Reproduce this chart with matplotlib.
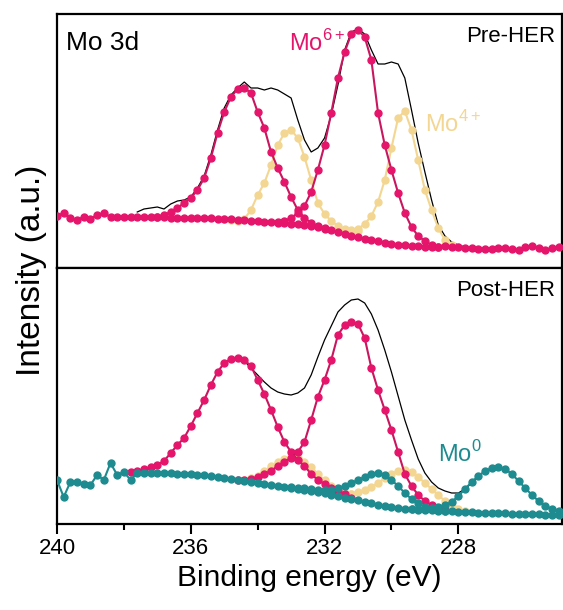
import matplotlib
matplotlib.use("Agg")
import matplotlib.pyplot as plt
import numpy as np

plt.rcParams['font.family'] = ['Liberation Sans', 'DejaVu Sans']
plt.rcParams['mathtext.fontset'] = 'custom'
plt.rcParams['mathtext.rm'] = 'Liberation Sans'

# energia de ligacao (eV), passo de 0.2 eV
E = np.round(np.arange(240.0, 224.9, -0.2), 1)

# ---- Pre-HER ----
pre_bg = [52, 55, 50, 48, 51, 49, 53, 55, 51, 51,
          51, 51, 51, 51, 51, 51, 51, 50.5, 50, 50,
          50, 50, 50, 50, 49.5, 49, 49, 48.5, 48, 47.5,
          47, 46.5, 46, 45.5, 45, 44.5, 44, 43, 42, 41,
          39.5, 38, 36, 34, 32, 31, 29, 28, 27, 25.5,
          24.5, 23.5, 23, 22.5, 22, 21.5, 21, 21, 22, 21.5,
          21, 20.5, 20, 19.5, 19, 19, 20, 20, 19, 18,
          21.5, 22, 20, 18, 20, 21]
pre_raw_start = 237.6
pre_raw = [56, 59, 60, 61, 59, 64, 67, 68, 71, 80,
           92, 113, 138, 160, 173, 180, 186, 180, 180, 178,
           180, 178, 174, 170, 148, 128, 116, 120, 130, 153,
           183, 218, 236, 239, 234, 218, 204, 204, 206, 204,
           190, 158, 125, 96, 68, 43, 32, 26, 23, 21]
pre_mo6a_start = 237.0
pre_mo6a = [51, 53, 56, 60, 65, 70, 78, 90, 110, 135,
            156, 171, 179, 180, 175, 156, 140, 116, 100, 86,
            71, 58, 50, 45, 42, 40]
pre_mo6b_start = 233.4
pre_mo6b = [46, 47, 50, 55, 62, 76, 98, 123, 155, 190,
            216, 234, 238, 231, 208, 155, 123, 98, 75, 55,
            41, 32, 27, 23, 21]
pre_mo4a_start = 235.0
pre_mo4a = [49, 48, 47, 49, 58, 73, 85, 103, 123, 135,
            138, 130, 111, 88, 65, 54, 47, 42, 39, 38, 37]
pre_mo4b_start = 231.2
pre_mo4b = [37, 39, 44, 52, 66, 88, 120, 150, 157, 138,
            108, 78, 58, 40, 28, 23, 21]

# ---- Post-HER ----
post_bg = [44, 27, 42, 42, 40, 39, 49, 44, 61, 49,
           52, 44, 51, 51, 51, 51, 51, 51, 50.5, 50,
           50, 49.5, 49, 48, 47, 46, 45, 44, 43, 42,
           41, 40, 39, 38, 37, 36, 35, 34, 33, 32,
           31, 29.5, 28, 26.5, 25, 24, 22, 21, 19.5, 18,
           17, 16, 15.5, 15, 14.5, 14, 14, 13.5, 13, 13,
           12.5, 12, 12, 11.5, 11.5, 11, 11, 11, 10.5, 10.5,
           10, 10, 10, 9.5, 9.5, 9]
post_env_start = 234.6
post_env = [167, 163, 156, 149, 142, 136, 132, 130, 129, 131,
            136, 149, 167, 184, 198, 212, 219, 224, 225, 221,
            210, 194, 174, 152, 128, 104, 84, 65, 51, 42,
            36, 33, 31, 31, 35, 41, 48]
post_mo6a_start = 237.8
post_mo6a = [52, 53, 55, 57, 59, 63, 71, 79, 86, 98,
             111, 124, 139, 152, 161, 165, 166, 164, 158, 144,
             130, 114, 97, 82, 72, 64, 58, 50, 44, 40,
             36, 33, 30, 26]
post_mo6b_start = 234.6
post_mo6b = [44, 44, 45, 47, 50, 53, 58, 62, 66, 72,
             82, 104, 127, 144, 164, 189, 199, 202, 200, 186,
             156, 134, 114, 94, 72, 50, 38, 29, 23, 19,
             16, 14]
post_mo4a_start = 234.4
post_mo4a = [44, 46, 48, 53, 58, 62, 65, 67, 66, 62,
             57, 50, 44, 38, 33, 31, 30]
post_mo4b_start = 231.2
post_mo4b = [30, 32, 34, 37, 41, 46, 50, 53, 54, 52,
             47, 41, 35, 29, 23, 18, 15, 13]
post_mo0a_start = 233.0
post_mo0a = [37, 36, 36, 35, 34, 34, 34, 36, 38, 41,
             44, 47, 50, 51, 49, 44, 38, 31, 25, 21,
             17, 15, 14, 13]
post_mo0b_start = 229.4
post_mo0b = [15, 15, 15, 16, 17, 19, 22, 28, 35, 42,
             48, 53, 56, 57, 55, 50, 43, 36, 29, 23,
             18, 15, 13]

pink = '#e4156b'
pink_line = '#c8175e'
yellow = '#f3d692'
teal = '#1d8b8f'


def energias(inicio, valores):
    i0 = int(np.argmin(np.abs(E - inicio)))
    return E[i0:i0 + len(valores)]


def componente(ax, inicio, valores, cor, cor_linha, z):
    ax.plot(energias(inicio, valores), valores, '-o', color=cor_linha, lw=1.5,
            ms=5, mfc=cor, mec=cor, zorder=z)


fig = plt.figure(figsize=(5.63, 6.10), dpi=100)
ax1 = fig.add_axes([57 / 563, 1 - 268 / 610, 505 / 563, 254 / 610])
ax2 = fig.add_axes([57 / 563, 1 - 524 / 610, 505 / 563, 256 / 610])

# painel superior
ax1.plot(energias(pre_raw_start, pre_raw), pre_raw, color='black', lw=0.9, zorder=1)
componente(ax1, pre_mo4a_start, pre_mo4a, yellow, yellow, 2)
componente(ax1, pre_mo4b_start, pre_mo4b, yellow, yellow, 2)
componente(ax1, pre_mo6a_start, pre_mo6a, pink, pink_line, 3)
componente(ax1, pre_mo6b_start, pre_mo6b, pink, pink_line, 3)
componente(ax1, 240.0, pre_bg, pink, pink_line, 4)

# painel inferior
ax2.plot(energias(post_env_start, post_env), post_env, color='black', lw=0.9, zorder=1)
componente(ax2, post_mo4a_start, post_mo4a, yellow, yellow, 2)
componente(ax2, post_mo4b_start, post_mo4b, yellow, yellow, 2)
componente(ax2, post_mo6a_start, post_mo6a, pink, pink_line, 3)
componente(ax2, post_mo6b_start, post_mo6b, pink, pink_line, 3)
componente(ax2, post_mo0a_start, post_mo0a, teal, teal, 4)
componente(ax2, post_mo0b_start, post_mo0b, teal, teal, 4)
componente(ax2, 240.0, post_bg, teal, teal, 5)

for ax in (ax1, ax2):
    ax.set_xlim(240, 224.9)
    ax.set_yticks([])
    for s in ax.spines.values():
        s.set_linewidth(1.6)
ax1.set_ylim(0, 254)
ax2.set_ylim(0, 256)
ax1.set_xticks([])

ax2.set_xticks([240, 236, 232, 228])
ax2.set_xticks([238, 234, 230], minor=True)
ax2.tick_params(axis='x', which='major', length=7, width=1.5, labelsize=16, pad=3)
ax2.tick_params(axis='x', which='minor', length=4, width=1.5)
ax2.set_xlabel('Binding energy (eV)', fontsize=21.5, labelpad=4)

fig.text(32 / 563, 1 - 270 / 610, 'Intensity (a.u.)', rotation=90, fontsize=24,
         ha='center', va='center')

ax1.text(0.018, 0.885, 'Mo 3d', transform=ax1.transAxes, fontsize=19, va='center')
ax1.text(0.986, 0.913, 'Pre-HER', transform=ax1.transAxes, fontsize=16, ha='right', va='center')
ax1.text(0.46, 0.886, r'Mo$^{6+}$', transform=ax1.transAxes, fontsize=17, color=pink, va='center')
ax1.text(0.729, 0.567, r'Mo$^{4+}$', transform=ax1.transAxes, fontsize=17, color=yellow, va='center')
ax2.text(0.986, 0.914, 'Post-HER', transform=ax2.transAxes, fontsize=16, ha='right', va='center')
ax2.text(0.754, 0.275, r'Mo$^{0}$', transform=ax2.transAxes, fontsize=17, color=teal, va='center')

fig.savefig('out.png', dpi=100)
